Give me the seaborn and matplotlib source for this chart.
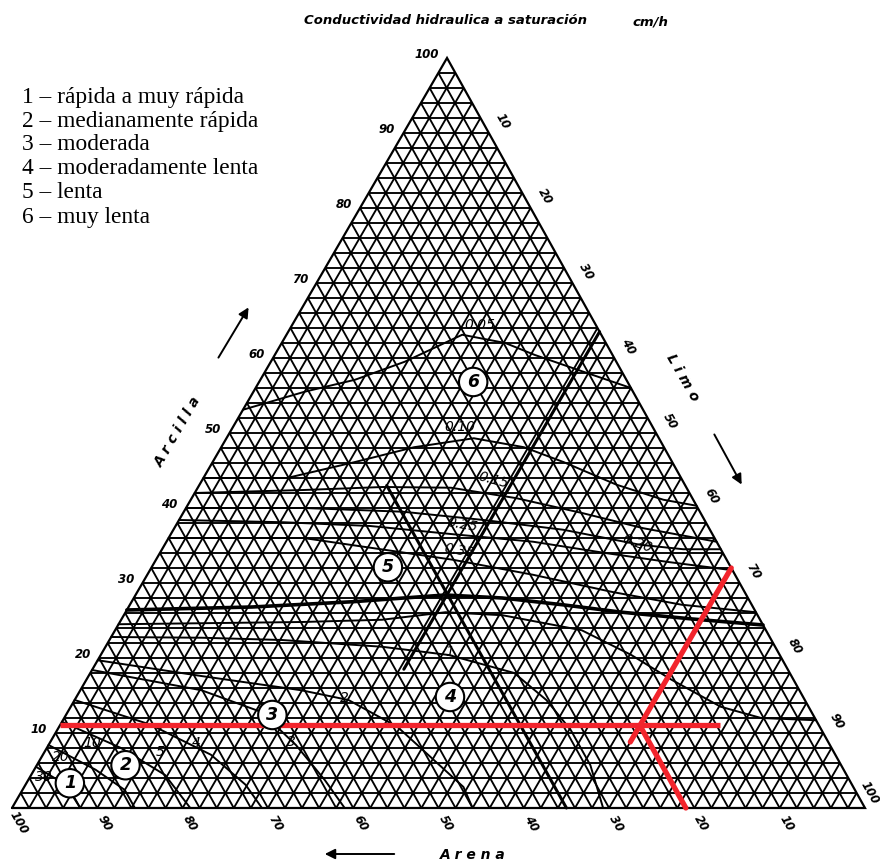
import matplotlib
matplotlib.use("Agg")
import matplotlib.pyplot as plt
from matplotlib.collections import LineCollection
from matplotlib.patches import FancyArrowPatch
import pandas as pd
import seaborn as sns

# ---------------------------------------------------------------- data
title_text = "Conductividad hidraulica a saturación"
units_text = "cm/h"
legend_lines = [
    "1 – rápida a muy rápida",
    "2 – medianamente rápida",
    "3 – moderada",
    "4 – moderadamente lenta",
    "5 – lenta",
    "6 – muy lenta",
]
tick_values = [10, 20, 30, 40, 50, 60, 70, 80, 90, 100]
grid_step = 2

# iso-conductivity curves, vertices as (arena %, arcilla %)
k_005 = [(46.9, 53.1), (38.5, 55.5), (31.8, 57.1), (24.8, 59.5), (16.3, 63.1),
         (11.8, 62.0), (9.1, 60.4), (5.0, 58.4), (0.0, 56.0)]
k_010 = [(56.0, 44.0), (46.2, 44.0), (37.3, 46.1), (29.3, 48.1), (21.7, 49.3),
         (16.4, 48.1), (12.7, 46.1), (8.0, 43.1), (3.5, 41.1), (0.0, 40.3)]
k_015 = [(58.0, 42.0), (45.0, 42.4), (35.5, 42.8), (27.6, 42.7), (20.6, 41.3),
         (13.8, 39.3), (7.7, 37.3), (0.0, 35.5)]
k_020 = [(60.0, 40.0), (46.2, 40.0), (34.8, 39.5), (25.9, 38.4), (17.2, 37.1),
         (9.2, 35.1), (4.4, 34.5), (0.0, 34.5)]
k_025 = [(61.6, 38.4), (49.5, 38.1), (39.6, 37.6), (30.4, 36.5), (21.5, 35.5),
         (13.8, 34.0), (7.0, 32.8), (0.0, 31.7)]
k_035 = [(64.0, 36.0), (48.2, 36.0), (39.3, 34.4), (32.1, 33.1), (23.7, 31.1),
         (15.5, 28.8), (8.2, 27.1), (0.0, 26.1)]
k_main = [(73.6, 26.4), (58.7, 26.8), (46.6, 27.5), (35.3, 28.4), (28.8, 28.0),
          (22.2, 27.1), (15.7, 26.1), (7.9, 25.2), (0.0, 24.4)]
k_075 = [(75.5, 24.5), (53.8, 24.8), (44.3, 25.1), (36.4, 26.1), (29.9, 25.7),
         (21.6, 23.7), (17.4, 20.4), (14.3, 17.1), (10.3, 13.5), (6.3, 12.0), (0.0, 11.7)]
k_1 = [(77.2, 22.8), (66.6, 22.7), (57.4, 22.4), (46.1, 21.5), (38.8, 20.4),
       (32.3, 18.0), (30.3, 14.4), (29.4, 10.4), (29.4, 5.7), (30.7, 0.0)]
k_2 = [(80.3, 19.7), (69.2, 17.6), (58.4, 15.7), (53.5, 14.4), (49.5, 10.8),
       (47.6, 6.8), (45.7, 2.8), (46.0, 0.0)]
k_3 = [(81.6, 18.4), (70.1, 15.7), (64.5, 12.8), (62.6, 8.4), (61.5, 3.7), (61.0, 0.0)]
k_5 = [(85.6, 14.4), (78.3, 11.1), (73.2, 7.1), (71.1, 3.1), (70.7, 0.0)]
k_10 = [(88.5, 11.5), (83.3, 8.0), (79.9, 4.4), (79.1, 0.0)]
k_20 = [(91.6, 8.4), (87.7, 5.1), (85.6, 2.4), (85.6, 0.0)]
k_30 = [(94.5, 5.5), (92.2, 3.1), (92.0, 0.0)]

# curve value labels: text and (arena %, arcilla %) anchor
curve_label_text = ["0.05", "0.10", "0.15", "0.25", "0.35", "0.20", "1", "2", "3",
                    "4", "5", "10", "20", "30"]
curve_label_pos = [(13.6, 64.4), (22.6, 50.8), (22.2, 43.7), (28.7, 37.7), (30.7, 34.3),
                   (9.4, 35.3), (38.5, 20.8), (53.8, 14.7), (62.9, 8.8), (74.1, 8.7),
                   (79.0, 7.5), (86.3, 8.7), (91.0, 6.8), (94.2, 4.1)]
curve_label_rot = [0, 0, -15, -10, -10, -20, 0, 0, 0, 0, 0, 0, 0, 0]

# permeability classes (circled numbers) at (arena %, arcilla %)
class_ids = ["1", "2", "3", "4", "5", "6"]
class_pos = [(91.6, 3.3), (83.9, 5.7), (63.4, 12.4), (41.4, 14.8), (40.2, 32.1), (18.1, 56.8)]

# reading lines of a sample soil (arcilla 11 %, limo 68 %, arena 21 %)
sample_clay, sample_silt, sample_sand = 11, 68, 21
# reference lines: limo 36.5 % and arena 35 %
ref_silt, ref_silt_clay = 36.5, (18.5, 63.5)
ref_sand, ref_sand_clay = 35, (0, 43)

# ---------------------------------------------------------------- geometry
SKEW = 0.51  # horizontal shift of the apex (triangle slightly leaning right)


def tern(sand, clay):
    silt = 100.0 - sand - clay
    return silt + SKEW * clay, clay


def fig_px(x, y):
    return x / 880.0, 1.0 - y / 864.0


sns.set_theme(style="white")
plt.rcParams["font.family"] = ["DejaVu Sans"]
plt.rcParams["text.color"] = "black"

fig = plt.figure(figsize=(8.8, 8.64), dpi=100)
fig.patch.set_facecolor("white")
ax = fig.add_axes([0, 0, 1, 1])
ax.set_xlim(-1.407, 101.76)
ax.set_ylim(-7.467, 107.73)
ax.axis("off")

# triangular 2 % grid
segs = []
for v in range(grid_step, 100, grid_step):
    segs.append([tern(100 - v, v), tern(0, v)])          # arcilla constant
    segs.append([tern(100 - v, 0), tern(0, 100 - v)])    # limo constant
    segs.append([tern(v, 0), tern(v, 100 - v)])          # arena constant
ax.add_collection(LineCollection(segs, colors="black", linewidths=1.35, zorder=1))
border = [tern(100, 0), tern(0, 0), tern(0, 100), tern(100, 0)]
ax.plot([p[0] for p in border], [p[1] for p in border], color="black", lw=1.6, zorder=2,
        solid_joinstyle="miter")

# iso-conductivity curves
curves = {"0.05": k_005, "0.10": k_010, "0.15": k_015, "0.20": k_020, "0.25": k_025,
          "0.35": k_035, "0.75": k_075, "1": k_1, "2": k_2, "3": k_3, "5": k_5,
          "10": k_10, "20": k_20, "30": k_30}
rows = []
for name, pts in curves.items():
    for i, (s, c) in enumerate(pts):
        x, y = tern(s, c)
        rows.append({"curve": name, "order": i, "x": x, "y": y})
df = pd.DataFrame(rows)
sns.lineplot(data=df, x="x", y="y", units="curve", estimator=None, sort=False,
             color="black", lw=1.4, ax=ax, zorder=3)
main_df = pd.DataFrame([tern(s, c) for s, c in k_main], columns=["x", "y"])
sns.lineplot(data=main_df, x="x", y="y", sort=False, estimator=None, color="black",
             lw=2.6, ax=ax, zorder=3)

# straight reference lines
a = tern(100 - ref_silt - ref_silt_clay[0], ref_silt_clay[0])
b = tern(100 - ref_silt - ref_silt_clay[1], ref_silt_clay[1])
ax.plot([a[0], b[0]], [a[1], b[1]], color="black", lw=2.2, zorder=4)
a = tern(ref_sand, ref_sand_clay[0])
b = tern(ref_sand, ref_sand_clay[1])
ax.plot([a[0], b[0]], [a[1], b[1]], color="black", lw=2.2, zorder=4)

# sample reading lines in red
red = "#f2242c"
a, b = tern(100 - sample_clay, sample_clay), tern(11.6, sample_clay)
ax.plot([a[0], b[0]], [a[1], b[1]], color=red, lw=3.8, zorder=5, solid_capstyle="butt")
a = tern(100 - sample_silt - 8.8, 8.8)
b = tern(0, 100 - sample_silt)
ax.plot([a[0], b[0]], [a[1], b[1]], color=red, lw=3.8, zorder=5)
a, b = tern(sample_sand, sample_clay), tern(sample_sand, 0)
ax.plot([a[0], b[0]], [a[1], b[1]], color=red, lw=3.8, zorder=5)

# tick labels
tick_font = dict(fontsize=8.5, fontstyle="italic", fontweight="bold", color="black")
for v in tick_values:
    ax.annotate(str(v), xy=tern(100 - v, v), xytext=(-6, 2.2), textcoords="offset points",
                ha="right", va="center", **tick_font)
    off = (10, 8.6) if v < 100 else (3, 11)
    ax.annotate(str(v), xy=tern(0, 100 - v), xytext=off, textcoords="offset points",
                ha="center", va="center", rotation=-60, **tick_font)
    ax.annotate(str(v), xy=tern(v, 0), xytext=(5, -11), textcoords="offset points",
                ha="center", va="center", rotation=-60, **tick_font)

# curve value labels
for t, (s, c), r in zip(curve_label_text, curve_label_pos, curve_label_rot):
    x, y = tern(s, c)
    ax.text(x, y, t, fontsize=10, fontstyle="italic", ha="center", va="center",
            rotation=r, zorder=6)

# circled class numbers
for t, (s, c) in zip(class_ids, class_pos):
    x, y = tern(s, c)
    ax.text(x, y, t, fontsize=12.5, fontstyle="italic", fontweight="bold", ha="center",
            va="center", zorder=7,
            bbox=dict(boxstyle="circle,pad=0.3", fc="white", ec="black", lw=1.5))

# title and legend
fig.text(*fig_px(445, 20), title_text, ha="center", va="center", fontsize=9.5,
         fontstyle="italic", fontweight="bold")
fig.text(*fig_px(650, 22), units_text, ha="center", va="center", fontsize=9.5,
         fontstyle="italic", fontweight="bold")
for i, line in enumerate(legend_lines):
    fig.text(*fig_px(22, 97 + i * 24), line, ha="left", va="center", fontsize=16.8,
             family=["Liberation Serif", "DejaVu Serif"])

# axis names with direction arrows
name_font = dict(fontsize=10, fontstyle="italic", fontweight="bold", ha="center",
                 va="center")
fig.text(*fig_px(178, 432), "A r c i l l a", rotation=60, **name_font)
fig.text(*fig_px(683, 378), "L i m o", rotation=-60, **name_font)
fig.text(*fig_px(473, 855), "A r e n a", **name_font)
for p0, p1 in [((217, 360), (250, 305)), ((713, 432), (743, 487)), ((397, 854), (322, 854))]:
    fig.add_artist(FancyArrowPatch(fig_px(*p0), fig_px(*p1), transform=fig.transFigure,
                                   arrowstyle="-|>", mutation_scale=15, lw=1.4,
                                   color="black"))

fig.savefig("out.png", dpi=100, facecolor="white")
